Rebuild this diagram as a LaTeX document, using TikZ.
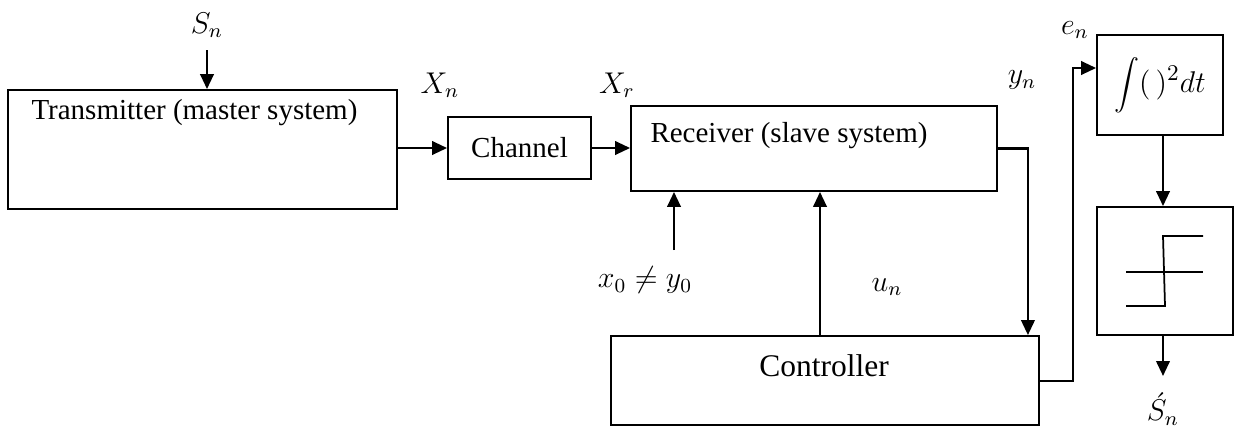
\documentclass[tikz,border=0pt]{standalone}
\usepackage{fontspec}
\setmainfont{Liberation Serif}
\usetikzlibrary{arrows.meta,positioning}
\begin{document}
\begin{tikzpicture}[x=0.4pt,y=-0.4pt]

    \tikzset{
      block/.style 2 args={
        draw,
        line width=0.75pt,
        inner sep=0pt,
        minimum width=#1*0.4pt,
        minimum height=#2*0.4pt,
        font=\fontsize{11.6}{14}\selectfont,
      },
      blocktext/.style={font=\fontsize{11.6}{14}\selectfont, inner sep=0pt},
      lbl/.style={font=\fontsize{12}{14}\selectfont, inner sep=0pt},
      sig/.style={line width=0.95pt, -{Triangle[length=6pt,width=5.4pt]}},
      wire/.style={line width=0.7pt},
    }
    \useasboundingbox (0,0) rectangle (1240,428);

    % blocks
    \node[block={389}{119}] (tx) at (202.5,149.5) {};
    \node[block={143}{62}] (ch) at (519.5,148) {Channel};
    \node[block={366}{85}] (rx) at (814,148.5) {};
    \node[block={428}{89}] (ctrl) at (825,380.5) {};
    \node[block={126}{100}, font=\fontsize{12.6}{15}\selectfont] (integ) at (1160,85) {$\displaystyle\int(\,)^2dt$};
    \node[block={136}{128}] (sign) at (1165,271) {};

    \node[blocktext, anchor=base west] (txtext) at (31,119) {Transmitter (master system)};
    \node[blocktext, anchor=base west] (rxtext) at (650,142) {Receiver (slave system)};
    \node[blocktext, font=\fontsize{12.6}{15}\selectfont, anchor=base] (ctrltext) at (824,376) {Controller};

    % free ends
    \coordinate (sin) at (207,50);
    \coordinate (xinit) at (674,250);
    \coordinate (ufb) at ([xshift=-2pt]ctrl.north);
    \coordinate (ydown) at ([xshift=-4.8pt]ctrl.north east);
    \coordinate (ebend) at (1073,381);
    \coordinate (sdown) at ([xshift=1.2pt]integ.south);
    \coordinate (sout) at (1163,376);

    % signal paths
    \draw[sig] (sin) -- (sin |- tx.north);
    \draw[sig] (tx.east |- ch.west) -- (ch.west);
    \draw[sig] (ch.east) -- (ch.east -| rx.west);
    \draw[sig] (rx.east) -| (ydown);
    \draw[sig] (xinit) -- (xinit |- rx.south);
    \draw[sig] (ufb) -- (ufb |- rx.south);
    \draw[sig] (ctrl.east |- ebend) -- (ebend) |- ([yshift=6.8pt]integ.west);
    \draw[sig] (sdown) -- (sdown |- sign.north);
    \draw[sig] (sout |- sign.south) -- (sout);

    % hard limiter
    \draw[wire] (1126,272) -- (1203,272);
    \draw[wire] (1126,306) -- (1165,306) -- (1163,236) -- (1203,236);

    % labels
    \node[lbl] (lsn) at (207,25) {$S_n$};
    \node[lbl] (lxn) at (440,85) {$X_n$};
    \node[lbl] (lxr) at (617,85) {$X_r$};
    \node[lbl] (lyn) at (1022,80) {$y_n$};
    \node[lbl] (len) at (1075,30) {$e_n$};
    \node[lbl] (lx0) at (645,280) {$x_0\neq y_0$};
    \node[lbl] (lun) at (887,287) {$u_n$};
    \node[lbl] (lsout) at (1163,409) {$\acute{S}_n$};

\end{tikzpicture}
\end{document}
